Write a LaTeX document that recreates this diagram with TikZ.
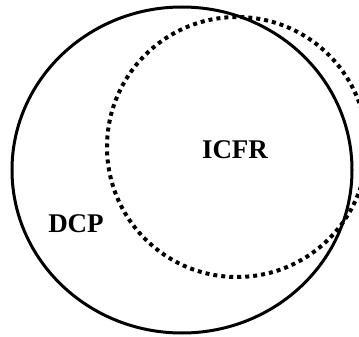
\documentclass[tikz,border=0pt]{standalone}
\usepackage{fontspec}
\setmainfont{Liberation Serif}
\begin{document}
\begin{tikzpicture}[x=1pt,y=-1pt,
  outer/.style={draw=black,line width=3pt},
  inner/.style={draw=black,line width=4pt,dash pattern=on 4pt off 4pt},
  lbl/.style={font=\fontsize{27}{30}\selectfont\bfseries,inner sep=0pt}]
\useasboundingbox (0,0) rectangle (359,337);
\begin{scope}
\clip (0,0) rectangle (359,337);
\draw[inner] (237,147) circle [x radius=130, y radius=130];
\end{scope}
\draw[outer] (182,170) ellipse [x radius=170, y radius=163];
\node[lbl] (icfr) at (235,150) {ICFR};
\node[lbl] (dcp) at (76,224) {DCP};
\end{tikzpicture}
\end{document}
